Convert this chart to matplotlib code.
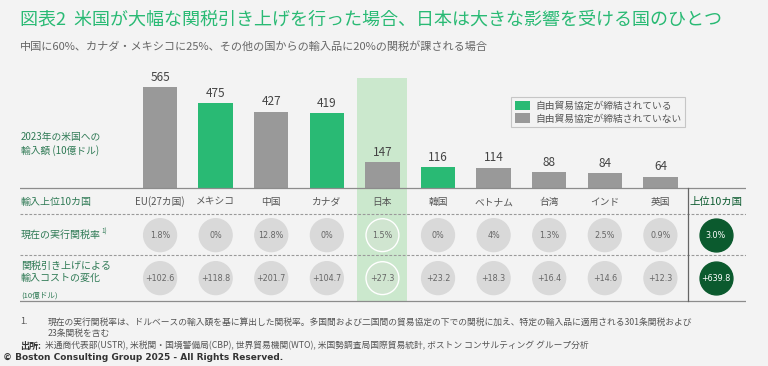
import matplotlib
matplotlib.use("Agg")
import matplotlib.pyplot as plt
from matplotlib.patches import Patch

plt.rcParams['font.family'] = ['Noto Sans CJK JP', 'DejaVu Sans']

# data
countries = ['EU(27カ国)', 'メキシコ', '中国', 'カナダ', '日本', '韓国', 'ベトナム', '台湾', 'インド', '英国']
imports_2023 = [565, 475, 427, 419, 147, 116, 114, 88, 84, 64]
has_fta = [False, True, False, True, False, True, False, False, False, False]
tariff_rates = ['1.8%', '0%', '12.8%', '0%', '1.5%', '0%', '4%', '1.3%', '2.5%', '0.9%']
cost_change = [102.6, 118.8, 201.7, 104.7, 27.3, 23.2, 18.3, 16.4, 14.6, 12.3]
total_label = '上位10カ国'
total_rate = '3.0%'
total_cost = 639.8
highlight = '日本'

GREEN = '#29ba74'
GRAY = '#999999'
BG = '#f3f3f3'
LABEL_GREEN = '#2f7a55'
DARK_GREEN = '#0b5a2e'
TEXT = '#555555'

fig = plt.figure(figsize=(7.68, 3.66), dpi=100, facecolor=BG)
ax = fig.add_axes([20 / 768, 1 - 305 / 366, 726 / 768, 245 / 366])
ax.set_facecolor('none')
ax.set_xlim(-2.52, 10.54)
ax.set_ylim(-653, 715)
ax.axis('off')

# layout rows (in data units below the baseline)
row_head, dash1, row_rate, dash2, row_cost, row_bottom = -78, -145, -263, -374, -503, -631

n = len(countries)
xs = list(range(n))
hi = countries.index(highlight)

# highlight column for Japan
ax.bar(hi, 615 - row_bottom, bottom=row_bottom, width=0.9, color='#cbe8cd', zorder=0)

colors = [GREEN if f else GRAY for f in has_fta]
ax.bar(xs, imports_2023, width=0.62, color=colors, zorder=2)
for x, v in zip(xs, imports_2023):
    ax.text(x, v + 18, f'{v}', ha='center', va='bottom', fontsize=8.5, color='#444444', zorder=3)

# grid lines of the table
ax.axhline(0, color='#8c8c8c', lw=0.9, zorder=3)
for y in (dash1, dash2):
    ax.axhline(y, color='#9a9a9a', lw=0.8, ls=(0, (2.5, 1.5)), zorder=1)
ax.axhline(row_bottom, color='#8c8c8c', lw=0.9, zorder=1)
ax.plot([n - 0.5, n - 0.5], [0, row_bottom], color='#666666', lw=0.9, zorder=3)

# header row
for x, c in zip(xs, countries):
    ax.text(x, row_head, c, ha='center', va='center', fontsize=7, color=TEXT)
ax.text(n, row_head, total_label, ha='center', va='center', fontsize=7.5, color=DARK_GREEN)

# circles
circ_face = ['#d0e5d0' if i == hi else '#d9d9d9' for i in xs]
circ_edge = ['white' if i == hi else '#d9d9d9' for i in xs]
for yrow in (row_rate, row_cost):
    ax.scatter(xs, [yrow] * n, s=560, c=circ_face, edgecolors=circ_edge, linewidths=1.0, zorder=2)
    ax.scatter([n], [yrow], s=560, c=DARK_GREEN, edgecolors=DARK_GREEN, zorder=2)

for x, r in zip(xs, tariff_rates):
    ax.text(x, row_rate, r, ha='center', va='center', fontsize=5.8, color='#666666', zorder=4,
            family='DejaVu Sans')
ax.text(n, row_rate, total_rate, ha='center', va='center', fontsize=5.8, color='white', zorder=4,
        family='DejaVu Sans')
for x, v in zip(xs, cost_change):
    ax.text(x, row_cost, f'+{v:.1f}', ha='center', va='center', fontsize=5.8, color='#666666',
            zorder=4, family='DejaVu Sans')
ax.text(n, row_cost, f'+{total_cost:.1f}', ha='center', va='center', fontsize=5.8, color='white',
        zorder=4, family='DejaVu Sans')

# left labels
ax.text(-2.5, 246, '2023年の米国への\n輸入額 (10億ドル)', ha='left', va='center', fontsize=7,
        color=LABEL_GREEN, linespacing=1.3)
ax.text(-2.5, row_head, '輸入上位10カ国', ha='left', va='center', fontsize=7.2, color=LABEL_GREEN)
ax.text(-2.5, row_rate, '現在の実行関税率', ha='left', va='center', fontsize=7.2, color=LABEL_GREEN)
ax.text(-1.06, row_rate + 20, '1)', ha='left', va='center', fontsize=4.5, color=LABEL_GREEN)
ax.text(-2.5, row_cost + 35, '関税引き上げによる\n輸入コストの変化', ha='left', va='center',
        fontsize=7.2, color=LABEL_GREEN, linespacing=1.15)
ax.text(-2.5, row_cost - 95, '(10億ドル)', ha='left', va='center', fontsize=5.5, color=LABEL_GREEN)

# legend
handles = [Patch(facecolor=GREEN, label='自由貿易協定が締結されている'),
           Patch(facecolor=GRAY, label='自由貿易協定が締結されていない')]
leg = fig.legend(handles=handles, loc='upper left', bbox_to_anchor=(511 / 768, 1 - 97 / 366),
                 fontsize=7, frameon=True, fancybox=False, edgecolor='#bbbbbb', facecolor=BG,
                 handlelength=1.6, handleheight=1.1, handletextpad=0.5, labelspacing=0.25,
                 borderpad=0.4, borderaxespad=0)
for t in leg.get_texts():
    t.set_color(TEXT)
leg.get_frame().set_linewidth(0.8)

# titles
fig.text(20 / 768, 1 - 19 / 366, '図表2  米国が大幅な関税引き上げを行った場合、日本は大きな影響を受ける国のひとつ',
         ha='left', va='center', fontsize=13, color=GREEN)
fig.text(20 / 768, 1 - 46 / 366,
         '中国に60%、カナダ・メキシコに25%、その他の国からの輸入品に20%の関税が課される場合',
         ha='left', va='center', fontsize=8, color='#666666')

# footnotes
fig.text(20 / 768, 1 - 322 / 366, '1.', ha='left', va='center', fontsize=6.5, color=TEXT)
fig.text(48 / 768, 1 - 328 / 366,
         '現在の実行関税率は、ドルベースの輸入額を基に算出した関税率。多国間および二国間の貿易協定の下での関税に加え、特定の輸入品に適用される301条関税および\n23条関税を含む',
         ha='left', va='center', fontsize=6.3, color=TEXT, linespacing=1.2)
fig.text(20 / 768, 1 - 346 / 366, '出所:', ha='left', va='center', fontsize=6.5, color='#333333',
         weight='bold')
fig.text(45 / 768, 1 - 346 / 366,
         '米通商代表部(USTR), 米税関・国境警備局(CBP), 世界貿易機関(WTO), 米国勢調査局国際貿易統計, ボストン コンサルティング グループ分析',
         ha='left', va='center', fontsize=6.3, color=TEXT)
fig.text(3 / 768, 1 - 358 / 366, '© Boston Consulting Group 2025 - All Rights Reserved.',
         ha='left', va='center', fontsize=6.5, color='#333333', weight='bold', family='DejaVu Sans')

fig.savefig('out.png', dpi=100, facecolor=BG)
